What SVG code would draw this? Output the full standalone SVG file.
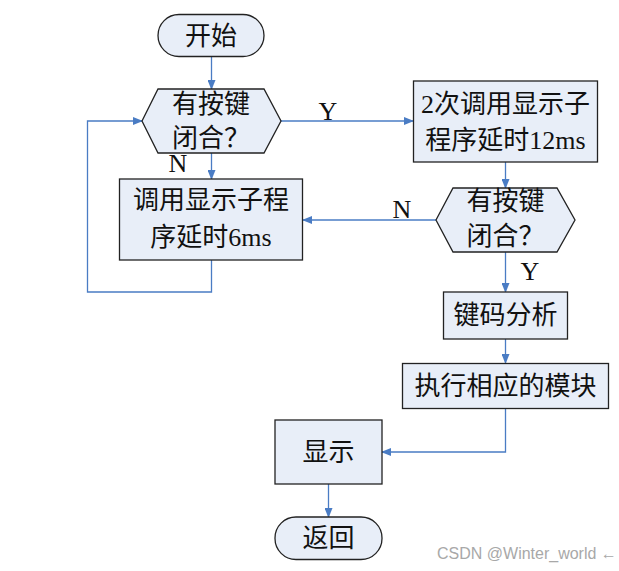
<svg xmlns="http://www.w3.org/2000/svg" width="619" height="571" viewBox="0 0 619 571">
<defs>
<marker id="ah" markerWidth="10" markerHeight="8" refX="9" refY="4" orient="auto" markerUnits="userSpaceOnUse">
<path d="M0,0 L10,4 L0,8 Z" fill="#4A7CC4"/>
</marker>
<style>
.n{fill:#E8EEF8;stroke:#222;stroke-width:1.3}
.t{font-family:"Liberation Serif","Noto Sans CJK SC",serif;font-size:26px;fill:#111;text-anchor:middle;dominant-baseline:central}
.c{fill:none;stroke:#4A7CC4;stroke-width:1.3;marker-end:url(#ah)}
.l{font-family:"Liberation Serif",serif;font-size:26px;fill:#111;text-anchor:middle}
.w{font-family:"Liberation Sans",Arial,sans-serif;font-size:16px;fill:#A8A8A8}
</style>
</defs>
<rect width="619" height="571" fill="#fff"/>
<g id="connectors">
<path class="c" d="M211.5,56.5 V89"/>
<path class="c" d="M211.5,153 V179"/>
<path class="c" d="M211.5,260 V292 H87.5 V121 H142"/>
<path class="c" d="M281,121 H413"/>
<path class="c" d="M505.5,162 V188"/>
<path class="c" d="M436,220 H303"/>
<path class="c" d="M505.5,252 V292"/>
<path class="c" d="M505.5,339 V363"/>
<path class="c" d="M505.5,408 V452 H382"/>
<path class="c" d="M328.5,484 V517"/>
</g>
<g id="labels">
<text class="l" x="328" y="120">Y</text>
<text class="l" x="178" y="172">N</text>
<text class="l" x="402" y="218">N</text>
<text class="l" x="530" y="280">Y</text>
</g>
<g id="start">
<rect class="n" x="158" y="14.5" width="106" height="42" rx="21"/>
<text class="t" x="211" y="36">开始</text>
</g>
<g id="decision1">
<polygon class="n" points="142,121 158,89 264,89 281,121 264,153 158,153"/>
<text class="t" x="211" y="104">有按键</text>
<text class="t" x="211" y="138">闭合？</text>
</g>
<g id="delay6">
<rect class="n" x="119.5" y="179" width="183" height="81"/>
<text class="t" x="211" y="200">调用显示子程</text>
<text class="t" x="211" y="237">序延时6ms</text>
</g>
<g id="delay12">
<rect class="n" x="413.5" y="81" width="184" height="81"/>
<text class="t" x="505.5" y="104">2次调用显示子</text>
<text class="t" x="505.5" y="140">程序延时12ms</text>
</g>
<g id="decision2">
<polygon class="n" points="436,220 453,188 557,188 575,220 557,252 453,252"/>
<text class="t" x="505.5" y="201">有按键</text>
<text class="t" x="505.5" y="236">闭合？</text>
</g>
<g id="analyze">
<rect class="n" x="443.5" y="292" width="124" height="47"/>
<text class="t" x="505.5" y="315">键码分析</text>
</g>
<g id="execute">
<rect class="n" x="402.5" y="363.5" width="206" height="45"/>
<text class="t" x="505.5" y="386">执行相应的模块</text>
</g>
<g id="display">
<rect class="n" x="275" y="420" width="107" height="64"/>
<text class="t" x="328.5" y="452">显示</text>
</g>
<g id="return">
<rect class="n" x="275" y="517" width="107" height="42.5" rx="21"/>
<text class="t" x="328.5" y="538">返回</text>
</g>
<text class="w" x="437" y="559">CSDN @Winter_world ←</text>
</svg>
